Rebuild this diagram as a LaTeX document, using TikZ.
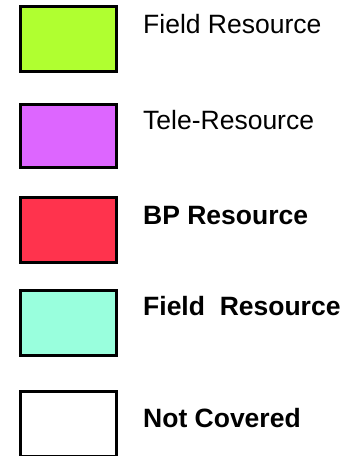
\documentclass[tikz,border=0pt]{standalone}
\usepackage{fontspec}
\setmainfont{Liberation Sans}
\definecolor{fieldgreen}{RGB}{176,255,48}
\definecolor{telepurple}{RGB}{221,102,255}
\definecolor{bpred}{RGB}{255,51,77}
\definecolor{fieldmint}{RGB}{153,255,221}
\begin{document}
\begin{tikzpicture}[x=1pt,y=-1pt,
  swatch/.style={draw=black,line width=3pt},
  label/.style={anchor=base west,inner sep=0pt,font=\fontsize{26.5}{30}\selectfont}]
\useasboundingbox (0,0) rectangle (346,456);
% colour swatches
\path[swatch,fill=fieldgreen] (20,6.5) rectangle (116,71.5);
\path[swatch,fill=telepurple] (20,104) rectangle (116,167.5);
\path[swatch,fill=bpred] (20,197.5) rectangle (116,262.5);
\path[swatch,fill=fieldmint] (20,290.5) rectangle (116,355.5);
\path[swatch,fill=white] (20,391.5) rectangle (116,456.5);
% legend entries
\node[label] (l1) at (143,33) {Field Resource};
\node[label] (l2) at (143,129) {Tele-Resource};
\node[label] (l3) at (143,224) {\bfseries BP Resource};
\node[label] (l4) at (143,315) {\bfseries Field\ \ Resource};
\node[label] (l5) at (143,427) {\bfseries Not Covered};
\end{tikzpicture}
\end{document}
